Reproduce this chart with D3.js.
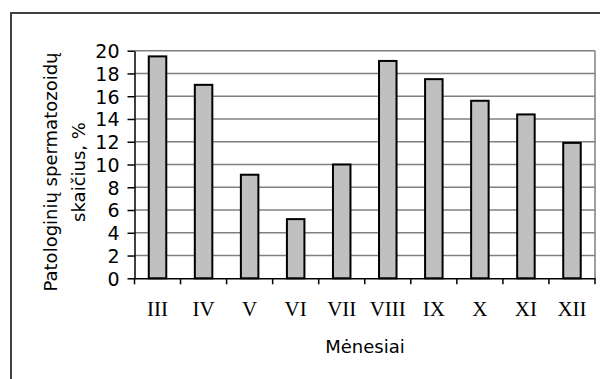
<!DOCTYPE html>
<html>
<head>
<meta charset="utf-8">
<script src="https://cdn.jsdelivr.net/npm/d3@7"></script>
<style>
  body { margin: 0; background: #fff; }
  svg { display: block; }
  .grid line { stroke: #808080; stroke-width: 1.5; }
  .axis-y text { font-family: "DejaVu Sans", sans-serif; font-size: 19px; fill: #000; }
  .axis-x text { font-family: "Liberation Serif", serif; font-size: 21px; fill: #000; }
  .title { font-family: "DejaVu Sans", sans-serif; font-size: 18px; fill: #000; }
</style>
</head>
<body>
<svg id="chart" width="600" height="379"></svg>
<script>
// data
const months = ['III','IV','V','VI','VII','VIII','IX','X','XI','XII'];
const values = [19.5, 17.0, 9.1, 5.2, 10.0, 19.1, 17.5, 15.6, 14.4, 11.9];
const yTicks = [0, 2, 4, 6, 8, 10, 12, 14, 16, 18, 20];
const yTitle = ['Patologinių spermatozoidų', 'skaičius, %'];
const xTitle = 'Mėnesiai';

let svg = d3.select('#chart');

let plotLeft = 134.5, plotRight = 595, plotTop = 50.7, plotBottom = 278.3;

// outer frame (right/bottom edges fall outside the window)
svg.append('rect')
   .attr('x', 11).attr('y', 13)
   .attr('width', 600).attr('height', 380)
   .attr('fill', 'none')
   .attr('stroke', '#404040')
   .attr('stroke-width', 2);

let x = d3.scaleBand()
          .domain(months)
          .range([plotLeft, plotRight])
          .paddingInner(0.62)
          .paddingOuter(0.31);

let y = d3.scaleLinear()
          .domain([0, 20])
          .range([plotBottom, plotTop]);

// horizontal gridlines
svg.append('g')
   .attr('class', 'grid')
   .selectAll('line')
   .data(yTicks.filter(d => d > 0))
   .enter()
   .append('line')
   .attr('x1', plotLeft).attr('x2', plotRight)
   .attr('y1', d => y(d)).attr('y2', d => y(d));

// right border of plot area
svg.append('line')
   .attr('x1', plotRight).attr('x2', plotRight)
   .attr('y1', plotTop).attr('y2', plotBottom)
   .attr('stroke', '#808080')
   .attr('stroke-width', 1.5);

// bars
svg.append('g')
   .selectAll('rect')
   .data(values)
   .enter()
   .append('rect')
   .attr('x', (d, i) => x(months[i]))
   .attr('y', d => y(d))
   .attr('width', x.bandwidth())
   .attr('height', d => plotBottom - y(d))
   .attr('fill', '#c0c0c0')
   .attr('stroke', '#000')
   .attr('stroke-width', 2);

// y axis
let yAxis = svg.append('g')
   .attr('class', 'axis-y')
   .attr('transform', `translate(${plotLeft},0)`)
   .call(d3.axisLeft(y).tickValues(yTicks).tickSize(7).tickPadding(8).tickSizeOuter(0));
yAxis.selectAll('line, path').attr('stroke', '#000').attr('stroke-width', 1.5);
yAxis.selectAll('text').attr('dy', '0.36em');

// x axis: labels under bars, ticks on category boundaries
let xAxis = svg.append('g')
   .attr('class', 'axis-x')
   .attr('transform', `translate(0,${plotBottom})`)
   .call(d3.axisBottom(x).tickSize(0).tickPadding(23).tickSizeOuter(0));
xAxis.select('path').attr('stroke', '#000').attr('stroke-width', 1.5);

let bounds = months.map(m => x(m) - x.step() * x.paddingInner() / 2).concat([plotRight]);
svg.append('g')
   .selectAll('line')
   .data(bounds)
   .enter()
   .append('line')
   .attr('x1', d => d).attr('x2', d => d)
   .attr('y1', plotBottom).attr('y2', plotBottom + 6)
   .attr('stroke', '#000')
   .attr('stroke-width', 1.5);

// axis titles
let yt = svg.append('text')
   .attr('class', 'title')
   .attr('text-anchor', 'middle')
   .attr('transform', 'translate(57,172) rotate(-90)');
yt.append('tspan').attr('x', 0).attr('y', 0).text(yTitle[0]);
yt.append('tspan').attr('x', 0).attr('y', 28).text(yTitle[1]);

svg.append('text')
   .attr('class', 'title')
   .attr('text-anchor', 'middle')
   .attr('x', 365).attr('y', 353)
   .text(xTitle);
</script>
</body>
</html>
